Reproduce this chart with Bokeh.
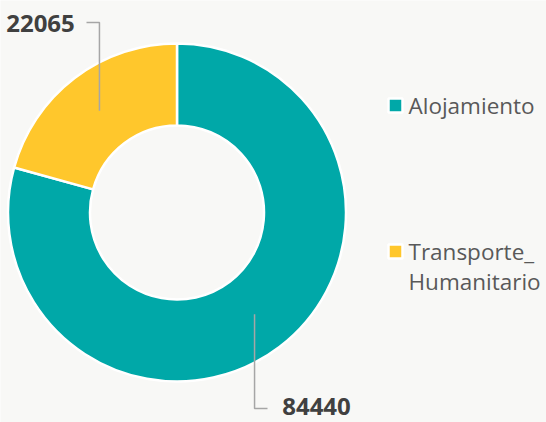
import math
from bokeh.plotting import figure
from bokeh.models import Range1d, ColumnDataSource
from bokeh.core.properties import value
from bokeh.embed import file_html
from bokeh.resources import INLINE

# ---- data ----
categories = ["Alojamiento", "Transporte_\nHumanitario"]
values = [84440, 22065]
colors = ["#00A8A8", "#FFC72C"]
value_labels = ["84440", "22065"]

# ---- layout (page pixel coordinates; data y = H - page y) ----
W, H = 546, 422
BG = "#F8F8F6"
cx, cy_page = 176.5, 212
r_out, r_in = 169, 87

def Y(py):
    return H - py

p = figure(width=W, height=H, output_backend="svg", toolbar_location=None,
           x_range=Range1d(0, W), y_range=Range1d(0, H),
           min_border=0)
p.axis.visible = False
p.grid.visible = False
p.outline_line_color = None
p.background_fill_color = BG
p.border_fill_color = BG

total = float(sum(values))
starts, ends, mids = [], [], []
cum = 0.0
for v in values:
    a0 = math.pi / 2 - 2 * math.pi * cum / total
    a1 = math.pi / 2 - 2 * math.pi * (cum + v) / total
    starts.append(a1)
    ends.append(a0)
    mids.append((a0 + a1) / 2)
    cum += v

src = ColumnDataSource(dict(start=starts, end=ends, color=colors))
p.annular_wedge(x=cx, y=Y(cy_page), inner_radius=r_in, outer_radius=r_out,
                start_angle="start", end_angle="end", direction="anticlock",
                fill_color="color", line_color="white", line_width=2.5, source=src)

# ---- leader lines and value labels ----
r_mid = (r_in + r_out) / 2
# (text center x, text center y page, elbow y page, elbow end x)
label_pos = [(316, 406, 408, 267), (40, 23, 22, 86)]
for i, m in enumerate(mids):
    ax = cx + r_mid * math.cos(m)
    ay = cy_page - r_mid * math.sin(m)
    tx, ty, ey, ex = label_pos[i]
    p.line([ax, ax, ex], [Y(ay), Y(ey), Y(ey)], line_color="#A6A6A6", line_width=1.5)
    p.text(x=[tx], y=[Y(ty)], text=[value_labels[i]], text_align="center",
           text_baseline="middle", text_font=value("Open Sans"), text_font_style="bold",
           text_font_size="24px", text_color="#404040")

# ---- legend ----
leg_y = [105, 251]
for i, cat in enumerate(categories):
    p.scatter(x=[395], y=[Y(leg_y[i])], marker="square", size=14, fill_color=colors[i],
              line_color="white", line_width=2.5)
    lines = cat.split("\n")
    for j, ln in enumerate(lines):
        p.text(x=[408], y=[Y(leg_y[i] + 30 * j)], text=[ln], text_align="left",
               text_baseline="middle", text_font=value("Open Sans"),
               text_font_size="22.5px", text_color="#595959")

open("out.html", "w").write(file_html(p, INLINE))
